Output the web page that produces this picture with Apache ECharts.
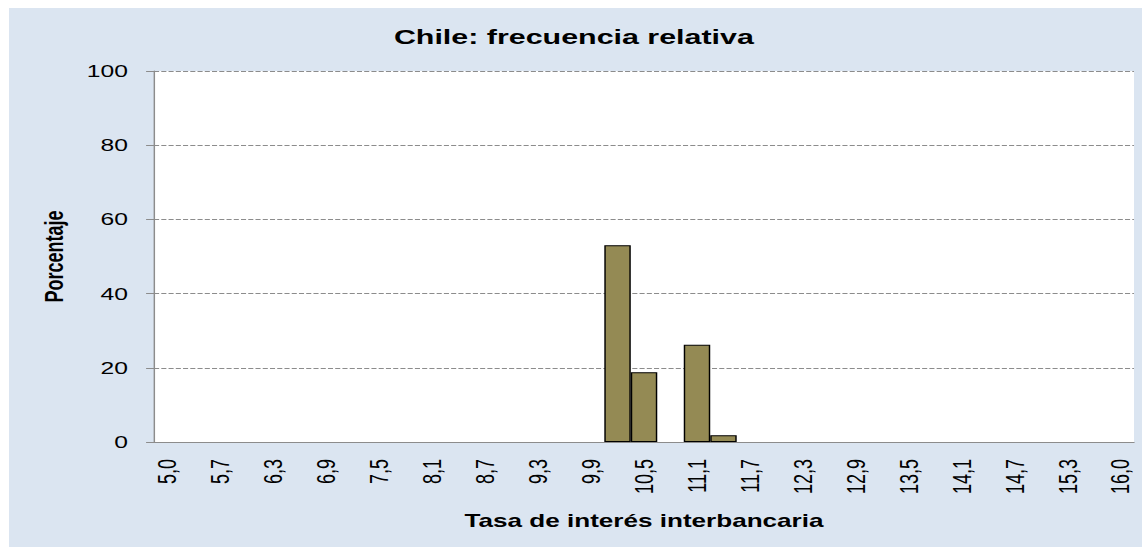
<!DOCTYPE html>
<html>
<head>
<meta charset="utf-8">
<script src="https://cdn.jsdelivr.net/npm/echarts@6/dist/echarts.min.js"></script>
<style>
  html, body { margin: 0; padding: 0; background: #DBE5F1; overflow: hidden; }
  #page { position: relative; width: 1142px; height: 547px; }
  /* margen blanco arriba y a la izquierda del panel */
  #bordeTop { position: absolute; left: 0; top: 0; width: 1142px; height: 8px; background: #ffffff; }
  #bordeLeft { position: absolute; left: 0; top: 0; width: 9px; height: 547px; background: #ffffff; }
  /* el gráfico original está estirado en horizontal, se dibuja angosto y se escala */
  #chart { position: absolute; left: 0; top: 0; width: 788px; height: 547px;
           transform: scaleX(1.4492); transform-origin: 0 0; }
</style>
</head>
<body>
<div id="page">
  <div id="bordeTop"></div>
  <div id="bordeLeft"></div>
  <div id="chart"></div>
</div>
<script>
// tasa de interés interbancaria (marcas de clase)
const tasas = [
  5.0, 5.3, 5.7, 6.0, 6.3, 6.6, 6.9, 7.2, 7.5, 7.8,
  8.1, 8.4, 8.7, 9.0, 9.3, 9.6, 9.9, 10.2, 10.5, 10.8,
  11.1, 11.4, 11.7, 12.0, 12.3, 12.6, 12.9, 13.2, 13.5, 13.8,
  14.1, 14.4, 14.7, 15.0, 15.3, 15.6, 16.0
]

// frecuencia relativa (%)
const frecuencia = [
  0, 0, 0, 0, 0, 0, 0, 0, 0, 0,
  0, 0, 0, 0, 0, 0, 0, 53.0, 18.8, 0,
  26.2, 1.8, 0, 0, 0, 0, 0, 0, 0, 0,
  0, 0, 0, 0, 0, 0, 0
]

const yTicks = { min: 0, max: 100, interval: 20 }

const fontFamily = '"Liberation Sans", Arial, sans-serif'
const chart = echarts.init(document.getElementById('chart'), null, { renderer: 'svg' })

const option = {
  backgroundColor: 'transparent',
  animation: false,
  title: {
    text: 'Chile: frecuencia relativa',
    left: 391,
    textAlign: 'center',
    top: 21,
    textStyle: { fontFamily, fontSize: 21, fontWeight: 'bold', color: '#000' }
  },
  grid: {
    left: 106.3,
    right: 5.5,
    top: 71,
    bottom: 105,
    show: true,
    backgroundColor: '#ffffff',
    borderWidth: 0
  },
  xAxis: {
    type: 'category',
    data: tasas.map(v => v.toFixed(1).replace('.', ',')),
    name: 'Tasa de interés interbancaria',
    nameLocation: 'middle',
    nameGap: 70,
    nameTextStyle: { fontFamily, fontSize: 18, fontWeight: 'bold', color: '#000' },
    axisLine: { lineStyle: { color: '#8c8c8c', width: 1 } },
    axisTick: { show: false },
    axisLabel: {
      interval: 1,
      rotate: 90,
      margin: 17,
      fontFamily,
      fontSize: 18,
      color: '#000'
    },
    splitLine: { show: false }
  },
  yAxis: {
    type: 'value',
    min: yTicks.min,
    max: yTicks.max,
    interval: yTicks.interval,
    name: 'Porcentaje',
    nameLocation: 'middle',
    nameGap: 60,
    nameTextStyle: { fontFamily, fontSize: 18, fontWeight: 'bold', color: '#000' },
    axisLine: { show: true, lineStyle: { color: '#8c8c8c', width: 1 } },
    axisTick: { show: true, length: 5.5, lineStyle: { color: '#8c8c8c' } },
    axisLabel: { margin: 18, fontFamily, fontSize: 17, color: '#000' },
    splitLine: { lineStyle: { color: '#8c8c8c', type: [3.5, 1.5], width: 1 } }
  },
  series: [
    {
      type: 'bar',
      data: frecuencia.map(v => (v > 0 ? v : '-')),
      barCategoryGap: 0,
      itemStyle: { color: '#948A54', borderColor: '#000000', borderWidth: 1 }
    }
  ]
}

chart.setOption(option)
</script>
</body>
</html>
